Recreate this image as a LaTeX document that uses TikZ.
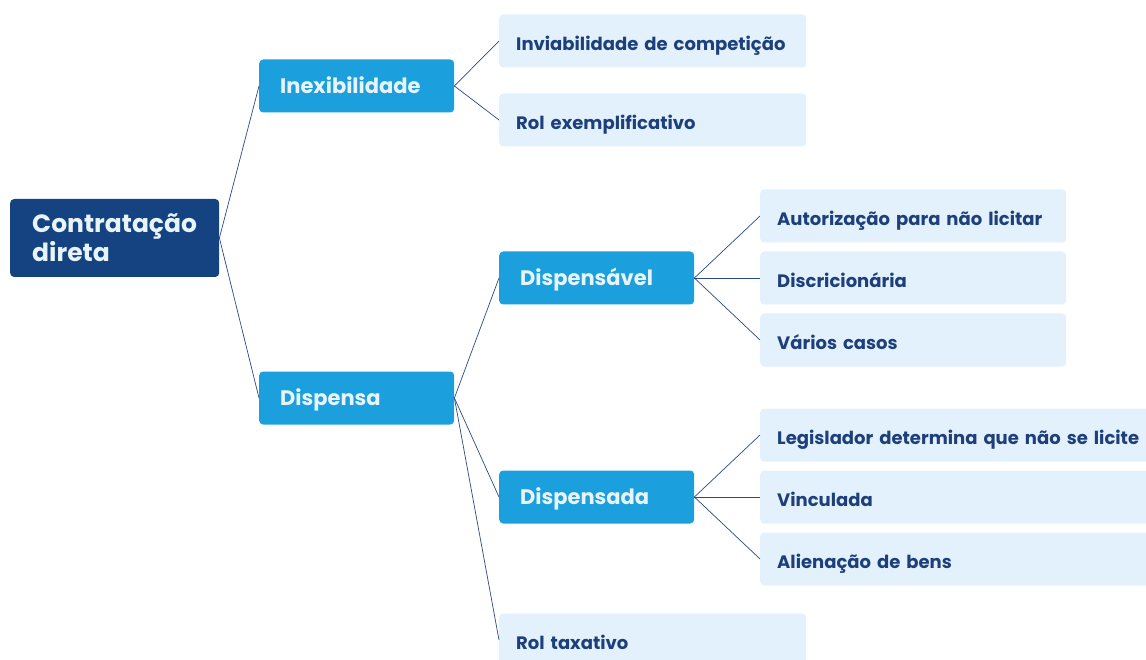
\documentclass[tikz,border=0pt]{standalone}
\usepackage{fontspec}
\setmainfont{Poppins}
\definecolor{rootc}{HTML}{154280}
\definecolor{midc}{HTML}{1CA0DD}
\definecolor{leafc}{HTML}{E3F1FC}
\definecolor{leaft}{HTML}{1D3F7B}
\definecolor{lightt}{HTML}{E8F4FC}
\definecolor{linec}{HTML}{2A4A85}
\tikzset{
  rootbox/.style={fill=rootc, text=lightt, rounded corners=4pt, anchor=west,
    minimum width=209pt, minimum height=78pt, inner xsep=22pt, text width=165pt,
    align=left, font=\fontsize{25}{29}\selectfont\bfseries},
  midbox/.style={fill=midc, text=lightt, rounded corners=4pt, anchor=west,
    minimum width=195pt, minimum height=53pt, inner xsep=21pt, text width=153pt,
    text height=17pt, text depth=2pt,
    align=left, font=\fontsize{21}{25}\selectfont\bfseries},
  leafbox/.style={fill=leafc, text=leaft, rounded corners=4pt, anchor=west,
    minimum width=#1, minimum height=53pt, inner xsep=17pt, text width=#1-34pt,
    text height=20pt, text depth=1pt,
    align=left, font=\fontsize{18}{22}\selectfont\bfseries},
  link/.style={draw=linec, line width=0.7pt}
}
\begin{document}
\begin{tikzpicture}[x=1pt,y=-1pt]
\useasboundingbox (0,0) rectangle (1146,660);
\fill[white] (0,0) rectangle (1146,660);
\node[rootbox] (root) at (10,238) {Contratação\\direta};
\node[midbox] (inex) at (259,86) {Inexibilidade};
\node[midbox] (disp) at (259,398) {Dispensa};
\node[midbox] (dvel) at (499,278) {Dispensável};
\node[midbox] (dada) at (499,497) {Dispensada};
\node[leafbox=307pt] (inv) at (499,41) {Inviabilidade de competição};
\node[leafbox=307pt] (rex) at (499,120) {Rol exemplificativo};
\node[leafbox=306pt] (aut) at (760,216) {Autorização para não licitar};
\node[leafbox=306pt] (dis) at (760,278) {Discricionária};
\node[leafbox=306pt] (var) at (760,340) {Vários casos};
\node[leafbox=400pt] (leg) at (760,435) {Legislador determina que não se licite};
\node[leafbox=400pt] (vin) at (760,497) {Vinculada};
\node[leafbox=400pt] (ali) at (760,559) {Alienação de bens};
\node[leafbox=307pt] (rtx) at (499,640) {Rol taxativo};
\draw[link] (root.east) -- (inex.west);
\draw[link] (root.east) -- (disp.west);
\draw[link] (inex.east) -- (inv.west);
\draw[link] (inex.east) -- (rex.west);
\draw[link] (disp.east) -- (dvel.west);
\draw[link] (disp.east) -- (dada.west);
\draw[link] (disp.east) -- (rtx.west);
\draw[link] (dvel.east) -- (aut.west);
\draw[link] (dvel.east) -- (dis.west);
\draw[link] (dvel.east) -- (var.west);
\draw[link] (dada.east) -- (leg.west);
\draw[link] (dada.east) -- (vin.west);
\draw[link] (dada.east) -- (ali.west);
\end{tikzpicture}
\end{document}
